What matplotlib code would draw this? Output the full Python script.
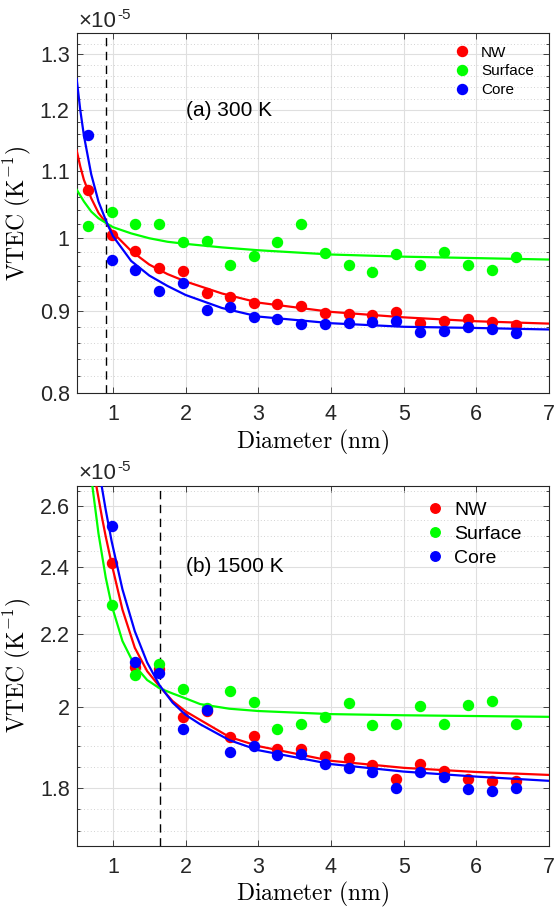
import numpy as np
import matplotlib
matplotlib.use('Agg')
import matplotlib.pyplot as plt
from matplotlib.ticker import NullFormatter

plt.rcParams['font.family'] = ['Liberation Sans', 'DejaVu Sans']

# ---- data (VTEC in units of 1e-5 K^-1) ----
d_300 = [0.65, 0.98, 1.30, 1.63, 1.96, 2.29, 2.61, 2.94, 3.26, 3.59,
         3.92, 4.25, 4.57, 4.90, 5.23, 5.55, 5.88, 6.21, 6.54]
nw_300 = [1.070, 1.003, 0.981, 0.957, 0.953, 0.924, 0.918, 0.910, 0.909, 0.906,
          0.898, 0.896, 0.895, 0.899, 0.885, 0.887, 0.890, 0.886, 0.882]
surf_300 = [1.017, 1.038, 1.019, 1.019, 0.994, 0.995, 0.961, 0.974, 0.994, 1.019,
            0.978, 0.961, 0.952, 0.977, 0.962, 0.979, 0.962, 0.955, 0.973]
core_300 = [1.159, 0.969, 0.955, 0.926, 0.937, 0.901, 0.905, 0.893, 0.890, 0.883,
            0.883, 0.885, 0.886, 0.887, 0.873, 0.875, 0.880, 0.877, 0.872]

# fitted curves
xfit_300 = [0.5, 0.55, 0.6, 0.7, 0.8, 0.92, 1.0, 1.25, 1.5, 1.75, 2.0, 2.5, 3.0, 4.0, 5.0, 6.0, 7.0]
nw_fit_300 = [1.133, 1.107, 1.086, 1.058, 1.036, 1.019, 1.007, 0.981, 0.962, 0.949, 0.939,
              0.923, 0.911, 0.899, 0.892, 0.887, 0.884]
surf_fit_300 = [1.071, 1.062, 1.053, 1.038, 1.028, 1.020, 1.015, 1.006, 0.999, 0.994, 0.991,
                0.986, 0.982, 0.976, 0.973, 0.971, 0.969]
core_fit_300 = [1.255, 1.200, 1.157, 1.095, 1.053, 1.020, 1.002, 0.967, 0.947, 0.933, 0.921,
                0.904, 0.893, 0.8845, 0.880, 0.8785, 0.8766]

d_1500 = [0.98, 1.30, 1.63, 1.96, 2.29, 2.61, 2.94, 3.26, 3.59,
          3.92, 4.25, 4.57, 4.90, 5.23, 5.55, 5.88, 6.21, 6.54]
nw_1500 = [2.411, 2.107, 2.100, 1.974, 1.990, 1.922, 1.925, 1.892, 1.894,
           1.875, 1.870, 1.854, 1.820, 1.857, 1.840, 1.820, 1.816, 1.816]
surf_1500 = [2.284, 2.084, 2.114, 2.047, 1.998, 2.042, 2.013, 1.944, 1.955,
             1.974, 2.009, 1.953, 1.955, 2.002, 1.955, 2.004, 2.015, 1.955]
core_1500 = [2.532, 2.121, 2.091, 1.944, 1.991, 1.886, 1.900, 1.878, 1.880,
             1.856, 1.846, 1.838, 1.800, 1.837, 1.824, 1.797, 1.793, 1.800]

xfit_nw_1500 = [0.771, 0.85, 0.9, 0.98, 1.13, 1.30, 1.47, 1.64, 1.82, 2.0, 2.2, 2.6, 3.0, 4.0, 5.0, 6.0, 7.0]
nw_fit_1500 = [2.667, 2.558, 2.497, 2.411, 2.270, 2.160, 2.095, 2.054, 2.015, 1.988, 1.966,
               1.923, 1.900, 1.864, 1.847, 1.837, 1.830]
xfit_surf_1500 = [0.716, 0.8, 0.9, 0.98, 1.13, 1.30, 1.47, 1.64, 1.82, 2.0, 2.2, 2.6, 3.0, 4.0, 5.0, 6.0, 7.0]
surf_fit_1500 = [2.667, 2.507, 2.367, 2.284, 2.179, 2.110, 2.071, 2.049, 2.035, 2.022, 2.007,
                 1.995, 1.989, 1.981, 1.978, 1.976, 1.974]
xfit_core_1500 = [0.844, 0.9, 0.98, 1.13, 1.30, 1.47, 1.64, 1.82, 2.0, 2.2, 2.6, 3.0, 4.0, 5.0, 6.0, 7.0]
core_fit_1500 = [2.667, 2.585, 2.483, 2.331, 2.207, 2.119, 2.057, 2.011, 1.979, 1.955,
                 1.915, 1.890, 1.856, 1.838, 1.826, 1.816]

labels = ['NW', 'Surface', 'Core']
colors = ['#ff0000', '#00ff00', '#0000ff']

fig = plt.figure(figsize=(5.54, 9.10), dpi=100)
ax1 = fig.add_axes([0.1384, 0.5678, 0.8525, 0.3956])
ax2 = fig.add_axes([0.1384, 0.0703, 0.8525, 0.3956])


def style(ax, ylim, major, major_lab, minor, dash_x):
    ax.set_xlim(0.5, 7)
    ax.set_yscale('log')
    ax.set_ylim(*ylim)
    ax.set_xticks([1, 2, 3, 4, 5, 6, 7])
    ax.set_yticks(major)
    ax.set_yticklabels(major_lab)
    ax.set_yticks(minor, minor=True)
    ax.yaxis.set_minor_formatter(NullFormatter())
    ax.set_xticks([], minor=True)
    ax.tick_params(which='both', direction='in', top=True, right=True,
                   colors='#262626', labelsize=15.5)
    ax.tick_params(which='major', length=4.5, width=0.6)
    ax.tick_params(which='minor', length=2.5, width=0.6)
    ax.tick_params(axis='x', pad=8)
    ax.tick_params(axis='y', pad=5)
    ax.grid(True, which='major', color='#dfdfdf', linewidth=0.8)
    ax.grid(True, which='minor', axis='y', color='#c4c4c4', linewidth=0.6,
            linestyle=(0, (1, 3)))
    ax.set_axisbelow(True)
    for s in ax.spines.values():
        s.set_color('#262626')
        s.set_linewidth(0.8)
    ax.axvline(dash_x, color='black', linestyle=(0, (6, 4)), linewidth=1.0)
    ax.set_xlabel(r'$\mathrm{Diameter\ (nm)}$', fontsize=17, math_fontfamily='cm')
    ax.set_ylabel(r'$\mathrm{VTEC\ (K^{-1})}$', fontsize=17, math_fontfamily='cm')
    ax.yaxis.set_label_coords(-0.093, 0.5)
    ax.xaxis.set_label_coords(0.5, -0.095)
    # MATLAB style exponent label
    ax.annotate('\u00d710', xy=(0, 1), xycoords='axes fraction', xytext=(1.5, 4.8),
                textcoords='offset points', fontsize=16, color='#262626',
                ha='left', va='baseline')
    ax.annotate('-5', xy=(0, 1), xycoords='axes fraction', xytext=(29.5, 10.5),
                textcoords='offset points', fontsize=11, color='#262626',
                ha='left', va='baseline')


# (a) 300 K
pts = [nw_300, surf_300, core_300]
fits = [nw_fit_300, surf_fit_300, core_fit_300]
for y, yf, c, lab in zip(pts, fits, colors, labels):
    ax1.plot(d_300, y, 'o', color=c, markersize=7.2, label=lab, zorder=3)
    ax1.plot(xfit_300, yf, '-', color=c, linewidth=1.6, zorder=3)
style(ax1, (0.8, 1.334), [0.8, 0.9, 1.0, 1.1, 1.2, 1.3],
      ['0.8', '0.9', '1', '1.1', '1.2', '1.3'],
      [v for v in np.round(np.arange(0.82, 1.34, 0.02), 2) if round(v * 10, 6) % 1 != 0],
      0.91)
ax1.text(2.0, 1.2, '(a) 300 K', fontsize=15, ha='left', va='center')
ax1.legend(loc='upper left', bbox_to_anchor=(0.80, 0.966), frameon=False,
           fontsize=11, handlelength=1.0, handletextpad=0.75, borderpad=0,
           borderaxespad=0, labelspacing=0.32, markerscale=1.0)

# (b) 1500 K
pts = [nw_1500, surf_1500, core_1500]
fits = [(xfit_nw_1500, nw_fit_1500), (xfit_surf_1500, surf_fit_1500),
        (xfit_core_1500, core_fit_1500)]
for y, (xf, yf), c, lab in zip(pts, fits, colors, labels):
    ax2.plot(d_1500, y, 'o', color=c, markersize=7.2, label=lab, zorder=3)
    ax2.plot(xf, yf, '-', color=c, linewidth=1.6, zorder=3)
style(ax2, (1.668, 2.667), [1.8, 2.0, 2.2, 2.4, 2.6],
      ['1.8', '2', '2.2', '2.4', '2.6'],
      [1.7, 1.75, 1.85, 1.9, 1.95, 2.05, 2.1, 2.15, 2.25, 2.3, 2.35, 2.45, 2.5, 2.55, 2.65],
      1.65)
ax2.text(2.0, 2.4, '(b) 1500 K', fontsize=15, ha='left', va='center')
ax2.legend(loc='upper left', bbox_to_anchor=(0.738, 0.958), frameon=False,
           fontsize=14, handlelength=1.0, handletextpad=0.5, borderpad=0,
           borderaxespad=0, labelspacing=0.33, markerscale=0.95)

fig.savefig('out.png', dpi=100)
